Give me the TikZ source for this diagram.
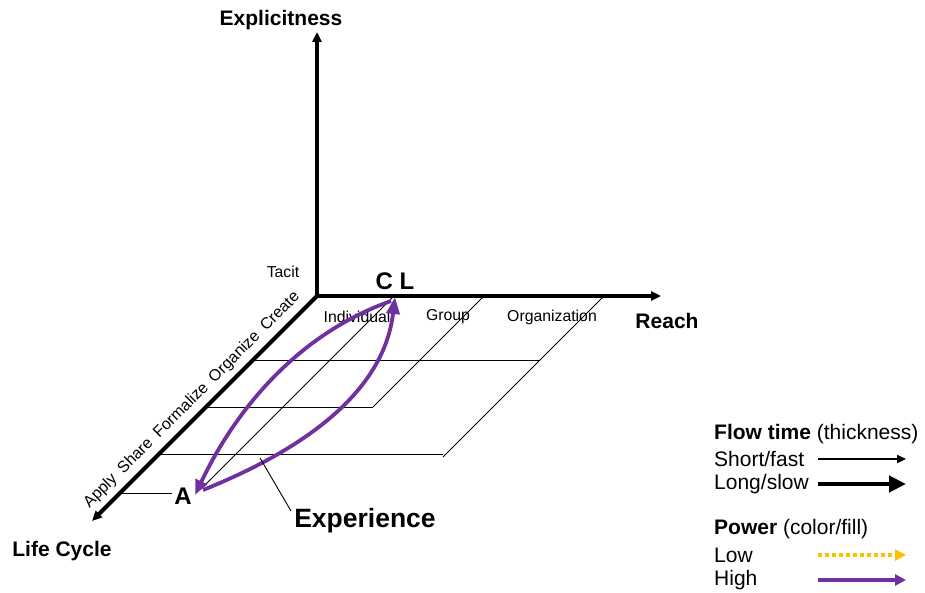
\documentclass[tikz,border=0pt]{standalone}
\usepackage{fontspec}
\setmainfont{Liberation Sans}
\usetikzlibrary{arrows.meta}
\definecolor{lcpurple}{HTML}{7030A0}
\definecolor{lcgold}{HTML}{FFC000}
\newcommand\myfs[1]{\fontsize{#1}{#1}\selectfont}
\begin{document}
\begin{tikzpicture}[x=1pt,y=-1pt,
  axisline/.style={line width=4pt,-{Triangle[length=10pt,width=9pt]}},
  gridline/.style={line width=0.9pt},
  flowline/.style={lcpurple,line width=3.8pt},
  lbl/.style={inner sep=0pt,font=\myfs{15.8}},
  bigl/.style={inner sep=0pt,font=\myfs{21}\bfseries},
  leg/.style={inner sep=0pt,anchor=west,font=\myfs{21}}]
\useasboundingbox (0,0) rectangle (925,593);
% axes
\coordinate (O) at (317,296);
\coordinate (Etip) at (317,32);
\coordinate (Rtip) at (661,296);
\coordinate (Ltip) at (92,521);
\draw[axisline] (O) -- (Etip);
\draw[axisline] (O) -- (Rtip);
\draw[axisline] (O) -- (Ltip);
% floor grid
\coordinate (h1a) at (253,360); \coordinate (h1b) at (540,360);
\coordinate (h2a) at (206,407); \coordinate (h2b) at (373,407);
\coordinate (h3a) at (159,454); \coordinate (h3b) at (443,454);
\coordinate (h4a) at (120,493); \coordinate (h4b) at (172,493);
\coordinate (d1a) at (393,297); \coordinate (d1b) at (203,487);
\coordinate (d2a) at (483,297); \coordinate (d2b) at (373,407);
\coordinate (d3a) at (603,297); \coordinate (d3b) at (443,457);
\draw[gridline] (h1a) -- (h1b);
\draw[gridline] (h2a) -- (h2b);
\draw[gridline] (h3a) -- (h3b);
\draw[gridline] (h4a) -- (h4b);
\draw[gridline] (d1a) -- (d1b);
\draw[gridline] (d2a) -- (d2b);
\draw[gridline] (d3a) -- (d3b);
% labels
\node[bigl] (expl) at (281,20) {Explicitness};
\node[bigl] (reach) at (667,321) {Reach};
\node[bigl] (life) at (62,551) {Life Cycle};
\node[lbl] (tacit) at (283,272) {Tacit};
\node[lbl] (indiv) at (357,317) {Individual};
\node[lbl] (group) at (448,317) {Group};
\node[lbl] (org) at (552,317) {Organization};
\node[inner sep=0pt,font=\myfs{24}\bfseries] (cl) at (395,281) {C L};
\node[inner sep=0pt,font=\myfs{24}\bfseries] (A) at (183,496) {A};
\node[inner sep=0pt,font=\myfs{16},rotate=45] (stages) at (192,400)
  {Apply\hspace{0.5em}Share\hspace{0.5em}Formalize\hspace{0.5em}Organize\hspace{0.5em}Create};
% flows
\coordinate (As) at (203,490);
\coordinate (Ae) at (195,495);
\coordinate (CLs) at (391,301);
\coordinate (CLe) at (395,297);
\draw[flowline,-{Triangle[length=17pt,width=13pt]}] (As) .. controls (290,455) and (383,399) .. (CLe);
\draw[flowline,-{Triangle[length=15pt,width=12pt]}] (CLs) .. controls (298,334) and (236,409) .. (Ae);
% experience
\node[inner sep=0pt,font=\myfs{26.5}\bfseries] (exp) at (365,521) {Experience};
\coordinate (ept) at (260,458);
\coordinate (eptb) at (291,511);
\draw[line width=0.9pt] (ept) -- (eptb);
% legend
\node[leg] (ft) at (714,434) {\textbf{Flow time} (thickness)};
\node[leg] (sf) at (714,459) {Short/fast};
\node[leg] (ls) at (714,484) {Long/slow};
\node[leg] (pw) at (714,529) {\textbf{Power} (color/fill)};
\node[leg] (lo) at (714,555) {Low};
\node[leg] (hi) at (714,580) {High};
\coordinate (sf1) at (818,459); \coordinate (sf2) at (906,459);
\coordinate (ls1) at (818,484); \coordinate (ls2) at (906,484);
\coordinate (lo1) at (818,555); \coordinate (lo2) at (906,555);
\coordinate (hi1) at (818,580); \coordinate (hi2) at (906,580);
\draw[line width=2.2pt,-{Triangle[length=9pt,width=8pt]}] (sf1) -- (sf2);
\draw[line width=4.5pt,-{Triangle[length=17pt,width=16pt]}] (ls1) -- (ls2);
\draw[lcgold,line width=3.2pt,dash pattern=on 4pt off 3pt,-{Triangle[length=11pt,width=11pt]}] (lo1) -- (lo2);
\draw[flowline,line width=3.2pt,-{Triangle[length=11pt,width=11pt]}] (hi1) -- (hi2);
\end{tikzpicture}
\end{document}
